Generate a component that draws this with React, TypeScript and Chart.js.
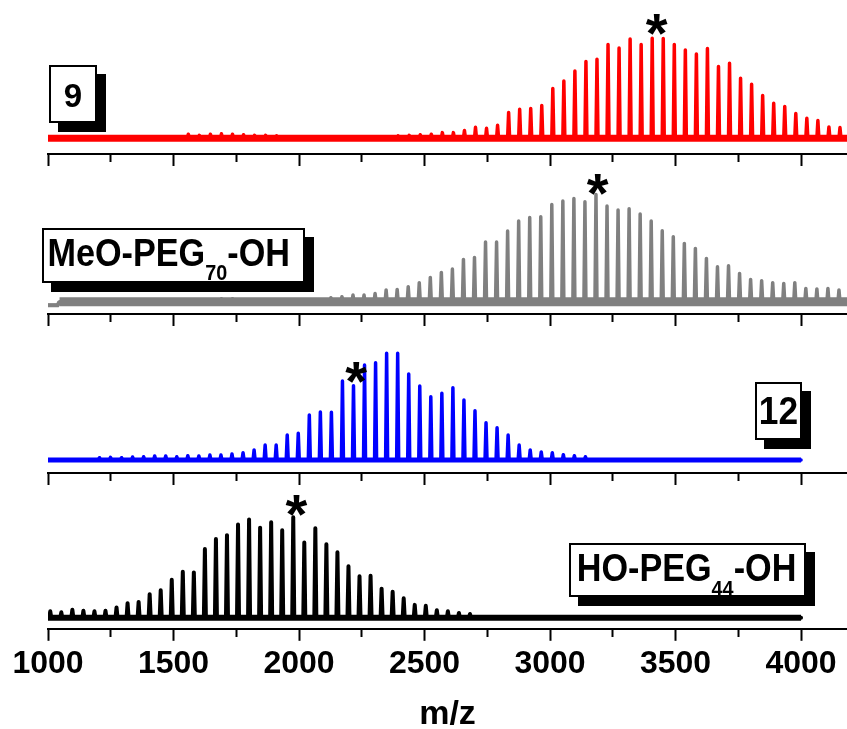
import React, { useEffect, useRef } from 'react';
import { Chart, registerables } from 'chart.js';

Chart.register(...registerables);

// ---------------- DATA ----------------
const X_MIN = 1000;
const X_MAX = 4183;
const TICK_STEP = 250;
const LABEL_STEP = 500;
const X_TITLE = 'm/z';

// Spectrum "9" (red)
const redPeakMz = [1559, 1603, 1647, 1691, 1735, 1779, 1823, 1867, 1911, 2395, 2439, 2483, 2527,
  2571, 2615, 2659, 2703, 2747, 2791, 2835, 2879, 2923, 2967, 3011, 3055, 3099, 3143, 3187, 3231,
  3275, 3319, 3363, 3407, 3451, 3495, 3539, 3583, 3627, 3671, 3715, 3759, 3803, 3847, 3891, 3935,
  3979, 4023, 4067, 4111, 4155, 4199];
const redPeakInt = [4, 3, 4, 4.5, 4, 3.5, 3, 3, 2.5, 2.5, 3, 3.5, 4,
  5.7, 5.7, 7.7, 11, 10, 13, 25.7, 29, 29.7, 32.7, 49.7, 57.3, 67.3, 76.7, 79, 93.7,
  90.3, 99.3, 93.7, 100, 99.7, 93.7, 88.3, 84.3, 89.7, 71.7, 75, 60, 54, 42.7, 35, 31.7,
  24.7, 20, 17.7, 11.3, 10.7, 9];
const redBaseMz = [1000, 4200];
const redBaseInt = [0, 0];

// MeO-PEG70-OH (gray)
const grayPeakMz = [1691, 1735, 2127, 2171, 2215, 2259, 2303, 2347, 2391, 2435, 2479, 2523, 2567, 2611,
  2655, 2699, 2743, 2787, 2831, 2875, 2919, 2963, 3007, 3051, 3095, 3139, 3183, 3227, 3271,
  3315, 3359, 3403, 3447, 3491, 3535, 3579, 3623, 3667, 3711, 3755, 3799, 3843, 3887, 3931,
  3975, 4019, 4063, 4107, 4151, 4195];
const grayPeakInt = [3, 3, 4, 5, 6.7, 6.7, 8.3, 11.7, 12.3, 15, 19, 24.3, 29.3, 32.7,
  42.3, 44.3, 59.7, 59.7, 70.7, 80.7, 84.3, 85, 97.3, 100.7, 103.3, 100, 107.3, 95.7, 91.7,
  93, 87.7, 80.7, 71, 65, 58.3, 53.3, 43.3, 35, 36, 28.3, 22.3, 21, 19, 18.3,
  19, 13.3, 12.7, 13.3, 11.7, 10];
const grayBaseMz = [1000, 1038, 1046, 4200];
const grayBaseInt = [-3.5, -3.5, 0, 0];

// Spectrum "12" (blue)
const bluePeakMz = [1205, 1249, 1293, 1337, 1381, 1425, 1469, 1513, 1557, 1601, 1645, 1689, 1733,
  1777, 1821, 1865, 1909, 1953, 1997, 2041, 2085, 2129, 2173, 2217, 2261, 2305, 2349, 2393,
  2437, 2481, 2525, 2569, 2613, 2657, 2701, 2745, 2789, 2833, 2877, 2921, 2965, 3009, 3053,
  3097, 3141];
const bluePeakInt = [2.3, 2.7, 2.3, 3, 3.3, 4, 4, 3.3, 4.3, 4, 5, 5, 6,
  7.3, 10, 15, 15, 25, 26.7, 45, 48, 47.7, 79, 74.3, 95, 97.3, 106.7, 106.7,
  86, 74, 63.3, 66.7, 72.3, 60, 49.3, 37.3, 32.3, 25, 15, 10, 8, 7.3, 5.3,
  4.3, 3.3];
const blueBaseMz = [1000, 4000];
const blueBaseInt = [0, 0];

// HO-PEG44-OH (black)
const blackPeakMz = [1009, 1053, 1097, 1141, 1185, 1229, 1273, 1317, 1361, 1405, 1449, 1493, 1537,
  1581, 1625, 1669, 1713, 1757, 1801, 1845, 1889, 1933, 1977, 2021, 2065, 2109, 2153, 2197,
  2241, 2285, 2329, 2373, 2417, 2461, 2505, 2549, 2593, 2637, 2681];
const blackPeakInt = [6.7, 5.7, 8.3, 7.3, 6.7, 7.3, 10.7, 15, 16.3, 24.3, 28.3, 39, 47.3,
  46.7, 70.7, 81, 85, 96, 101, 92.7, 98.3, 90, 103.3, 77.3, 92, 75.7, 67.3, 53,
  42.7, 43.3, 30, 26.7, 20, 13.3, 12.3, 7.7, 6.7, 5, 4];
const blackBaseMz = [1000, 4000];
const blackBaseInt = [0, 0];

// '*' markers (m/z, intensity of the mark centre)
const starMz = [3425, 3190, 2228, 1990];
const starInt = [113.3, 116.7, 87.5, 115.2];

// label texts
const labelRed = ['9'];
const labelGray = ['MeO-PEG', '70', '-OH'];
const labelBlue = ['12'];
const labelBlack = ['HO-PEG', '44', '-OH'];

// ---------------- LAYOUT / STYLE ----------------
const W = 847;
const H = 729;
const AREA_H = 154;
const FONT = '"Liberation Sans", Arial, Helvetica, sans-serif';

type Run = { text: string; size: number; dy: number };
type Box = { x: number; y: number; w: number; h: number; sx: number; textX: number | null; baseline: number; runs: Run[] };

type Panel = {
  top: number;
  color: string;
  lineWidth: number;
  bandWidth: number;
  bandLeadWidth: number;
  below: number;
  peakMz: number[];
  peakInt: number[];
  baseMz: number[];
  baseInt: number[];
  star: number;
  box: Box;
  bottom: boolean;
};

const panels: Panel[] = [
  {
    top: 0, color: '#ff0000', lineWidth: 3.5, bandWidth: 7, bandLeadWidth: 7, below: 15.7,
    peakMz: redPeakMz, peakInt: redPeakInt, baseMz: redBaseMz, baseInt: redBaseInt, star: 0, bottom: false,
    box: { x: 49, y: 65, w: 48, h: 58, sx: 1, textX: null, baseline: 106.7,
      runs: [{ text: labelRed[0], size: 33, dy: 0 }] },
  },
  {
    top: 160, color: '#808080', lineWidth: 3.5, bandWidth: 9, bandLeadWidth: 4, below: 12.3,
    peakMz: grayPeakMz, peakInt: grayPeakInt, baseMz: grayBaseMz, baseInt: grayBaseInt, star: 1, bottom: false,
    box: { x: 42, y: 68, w: 263, h: 55, sx: 0.9, textX: 47.5, baseline: 106,
      runs: [{ text: labelGray[0], size: 38, dy: 0 }, { text: labelGray[1], size: 22, dy: 14 }, { text: labelGray[2], size: 38, dy: 0 }] },
  },
  {
    top: 319, color: '#0000ff', lineWidth: 3.5, bandWidth: 5, bandLeadWidth: 5, below: 13,
    peakMz: bluePeakMz, peakInt: bluePeakInt, baseMz: blueBaseMz, baseInt: blueBaseInt, star: 2, bottom: false,
    box: { x: 755, y: 63, w: 47, h: 58, sx: 0.93, textX: null, baseline: 105,
      runs: [{ text: labelBlue[0], size: 38, dy: 0 }] },
  },
  {
    top: 479, color: '#000000', lineWidth: 4, bandWidth: 6, bandLeadWidth: 6, below: 11.3,
    peakMz: blackPeakMz, peakInt: blackPeakInt, baseMz: blackBaseMz, baseInt: blackBaseInt, star: 3, bottom: true,
    box: { x: 569, y: 64, w: 237, h: 54, sx: 0.9, textX: 576.7, baseline: 101.7,
      runs: [{ text: labelBlack[0], size: 38, dy: 0 }, { text: labelBlack[1], size: 22, dy: 15 }, { text: labelBlack[2], size: 38, dy: 0 }] },
  },
];

function buildTrace(p: Panel) {
  const pts: { x: number; y: number }[] = [];
  const hw = 4;
  for (let i = 0; i < p.baseMz.length; i++) pts.push({ x: p.baseMz[i], y: p.baseInt[i] });
  for (let i = 0; i < p.peakMz.length; i++) {
    pts.push({ x: p.peakMz[i] - hw, y: 0 });
    pts.push({ x: p.peakMz[i], y: p.peakInt[i] });
    pts.push({ x: p.peakMz[i] + hw, y: 0 });
  }
  pts.sort((a, b) => a.x - b.x);
  return pts;
}

const decoPlugin = {
  id: 'panelDeco',
  afterDatasetsDraw(chart: any, _args: any, opts: any) {
    const ctx = chart.ctx;
    const p: Panel = opts.panel;
    const xs = chart.scales.x;
    const ys = chart.scales.y;
    // star
    const sx = xs.getPixelForValue(starMz[p.star]);
    const sy = ys.getPixelForValue(starInt[p.star]);
    ctx.save();
    ctx.fillStyle = '#000';
    ctx.font = `bold 56px ${FONT}`;
    ctx.textAlign = 'center';
    ctx.textBaseline = 'alphabetic';
    ctx.fillText('*', sx, sy + 27);
    ctx.restore();
    // label box
    const b = p.box;
    ctx.save();
    ctx.fillStyle = '#000';
    ctx.fillRect(b.x + 9, b.y + 9, b.w, b.h);
    ctx.fillStyle = '#fff';
    ctx.fillRect(b.x, b.y, b.w, b.h);
    ctx.strokeStyle = '#000';
    ctx.lineWidth = 2;
    ctx.strokeRect(b.x + 1, b.y + 1, b.w - 2, b.h - 2);
    ctx.fillStyle = '#000';
    ctx.textBaseline = 'alphabetic';
    ctx.textAlign = 'left';
    let total = 0;
    for (const r of b.runs) {
      ctx.font = `bold ${r.size}px ${FONT}`;
      total += ctx.measureText(r.text).width * b.sx;
    }
    let x = b.textX === null ? b.x + b.w / 2 - total / 2 : b.textX;
    for (const r of b.runs) {
      ctx.font = `bold ${r.size}px ${FONT}`;
      const w = ctx.measureText(r.text).width * b.sx;
      ctx.save();
      ctx.translate(x, b.baseline + r.dy);
      ctx.scale(b.sx, 1);
      ctx.fillText(r.text, 0, 0);
      ctx.restore();
      x += w;
    }
    ctx.restore();
  },
};

function PanelChart({ p }: { p: Panel }) {
  const ref = useRef<HTMLCanvasElement | null>(null);
  const height = p.bottom ? 256 : AREA_H + 12;
  useEffect(() => {
    if (!ref.current) return;
    const chart = new Chart(ref.current, {
      type: 'line',
      data: {
        datasets: [
          {
            data: p.baseMz.map((m, i) => ({ x: m, y: p.baseInt[i] })),
            borderColor: p.color,
            borderWidth: p.bandWidth,
            segment: { borderWidth: (c: any) => (c.p0.parsed.y < 0 ? p.bandLeadWidth : p.bandWidth) },
            pointRadius: 0,
            borderCapStyle: 'butt',
            tension: 0,
          },
          {
            data: buildTrace(p),
            borderColor: p.color,
            borderWidth: p.lineWidth,
            pointRadius: 0,
            borderJoinStyle: 'round',
            borderCapStyle: 'round',
            tension: 0,
          },
        ],
      },
      options: {
        responsive: false,
        animation: false,
        events: [],
        layout: { padding: { left: 48, right: 0, top: 0, bottom: 0 } },
        plugins: {
          legend: { display: false },
          tooltip: { enabled: false },
          panelDeco: { panel: p },
        } as any,
        scales: {
          x: {
            type: 'linear',
            min: X_MIN,
            max: X_MAX,
            border: { display: true, color: '#000', width: 2 },
            grid: {
              display: true,
              drawOnChartArea: false,
              drawTicks: true,
              tickLength: 12,
              tickWidth: 2,
              tickColor: '#000',
              tickBorderDash: (c: any) => (c.tick && c.tick.value % LABEL_STEP !== 0 ? [7, 100] : []),
            },
            ticks: {
              display: p.bottom,
              stepSize: TICK_STEP,
              autoSkip: false,
              maxRotation: 0,
              minRotation: 0,
              includeBounds: false,
              padding: 4,
              color: '#000',
              font: { family: FONT, size: 32, weight: 'bold' },
              callback: (v: any) => (Number(v) % LABEL_STEP === 0 ? String(v) : ''),
            },
            title: {
              display: p.bottom,
              text: X_TITLE,
              color: '#000',
              font: { family: FONT, size: 34, weight: 'bold' },
              padding: { top: 7, bottom: 0 },
            },
          },
          y: {
            type: 'linear',
            display: false,
            min: -p.below,
            max: AREA_H - p.below,
          },
        },
      } as any,
      plugins: [decoPlugin as any],
    });
    return () => chart.destroy();
  }, [p]);
  return (
    <canvas
      ref={ref}
      width={W}
      height={height}
      style={{ position: 'absolute', left: 0, top: p.top, width: W, height }}
    />
  );
}

export default function App() {
  return (
    <div style={{ position: 'fixed', left: 0, top: 0, width: W, height: H, overflow: 'hidden', background: '#fff' }}>
      {panels.map((p, i) => (
        <PanelChart key={i} p={p} />
      ))}
    </div>
  );
}
